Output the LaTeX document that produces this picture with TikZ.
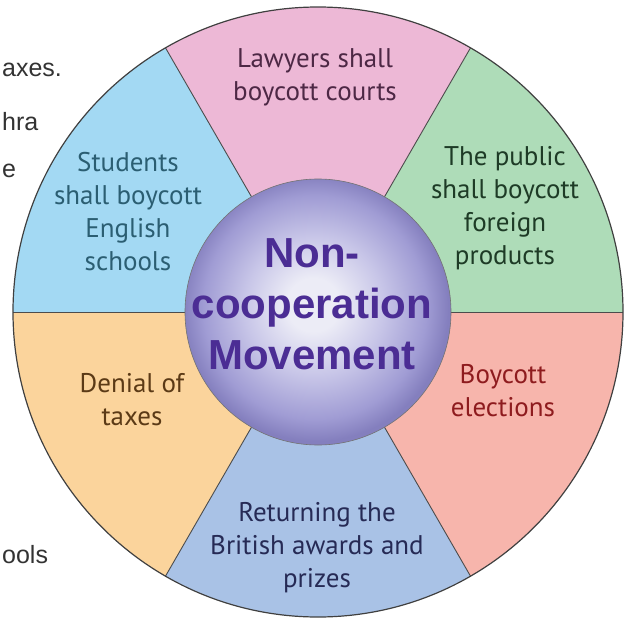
\documentclass[tikz,border=0pt]{standalone}
\usepackage{fontspec}
\setmainfont{PT Sans}
\newfontfamily\hubfont{Liberation Sans}
\usetikzlibrary{positioning}

\definecolor{lawpink}{HTML}{EDB8D6}
\definecolor{pubgreen}{HTML}{AEDCB8}
\definecolor{votered}{HTML}{F7B5AC}
\definecolor{awardblue}{HTML}{A9C2E6}
\definecolor{taxorange}{HTML}{FBD49C}
\definecolor{stucyan}{HTML}{A3D9F3}
\definecolor{lawtext}{HTML}{4D2845}
\definecolor{stutext}{HTML}{2B5E72}
\definecolor{pubtext}{HTML}{1E3B26}
\definecolor{votetext}{HTML}{8E1B1E}
\definecolor{taxtext}{HTML}{5B3A16}
\definecolor{awardtext}{HTML}{262A55}
\definecolor{hubtext}{HTML}{4B2D94}
\definecolor{orbcore}{RGB}{236,236,246}
\definecolor{orbmid}{RGB}{200,198,232}
\definecolor{orbouter}{RGB}{160,156,212}
\definecolor{orbrim}{RGB}{132,127,190}
\pgfdeclareradialshading{orb}{\pgfpoint{-1bp}{1.5bp}}{color(0bp)=(orbcore); color(5bp)=(orbcore); color(13bp)=(orbmid); color(21bp)=(orbouter); color(25bp)=(orbrim); color(50bp)=(orbrim)}

\begin{document}
\begin{tikzpicture}[x=1pt,y=1pt,
spoke/.style={draw=black!70, line width=0.9pt},
sectorlabel/.style={align=center, inner sep=0pt, font=\fontsize{27}{33}\selectfont},
hublabel/.style={align=center, inner sep=0pt, text=hubtext, font=\hubfont\bfseries\fontsize{42}{51}\selectfont},
pagetext/.style={anchor=base west, inner sep=0pt, text=black!80, font=\hubfont\fontsize{25}{30}\selectfont}]
\useasboundingbox (-318,-307) rectangle (308,312);
\coordinate (hubc) at (0,0);
% page text behind the wheel
\node[pagetext] (pg1) at (-316,235) {axes.};
\node[pagetext] (pg2) at (-316,182) {hra};
\node[pagetext] (pg3) at (-316,135) {e};
\node[pagetext] (pg4) at (-316,-251) {ools};
% sectors
\foreach \a/\c in {0/pubgreen, 60/lawpink, 120/stucyan, 180/taxorange, 240/awardblue, 300/votered}
  \fill[\c] (hubc) -- (\a:305) arc[start angle=\a, end angle=\a+60, radius=305] -- cycle;
\foreach \a in {0,60,...,300}
  \draw[spoke] (hubc) -- (\a:305);
\draw[black!75, line width=1.2pt] (hubc) circle[radius=305];
% hub
\shade[shading=orb] (hubc) circle[radius=133];
\draw[black!55, line width=0.6pt] (hubc) circle[radius=133];
\node[hublabel] (hub) at (-6,8) {Non-\\cooperation\\Movement};
% labels
\node[sectorlabel, text=lawtext] (lawyers) at (-3,235) {Lawyers shall\\boycott courts};
\node[sectorlabel, text=pubtext] (public) at (187,104) {The public\\shall boycott\\foreign\\products};
\node[sectorlabel, text=stutext] (students) at (-190,100) {Students\\shall boycott\\English\\schools};
\node[sectorlabel, text=taxtext] (taxes) at (-186,-88) {Denial of\\taxes};
\node[sectorlabel, text=votetext] (elections) at (185,-79) {Boycott\\elections};
\node[sectorlabel, text=awardtext] (awards) at (-1,-236) {Returning the\\British awards and\\prizes};
\end{tikzpicture}
\end{document}
